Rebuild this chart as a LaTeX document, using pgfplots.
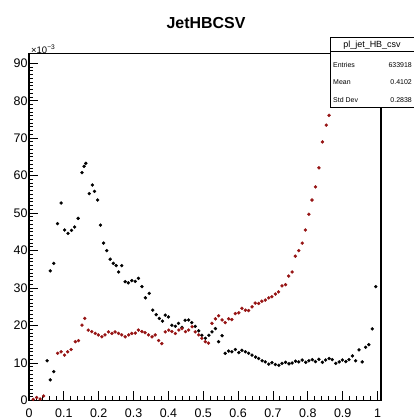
\documentclass[border=0pt]{standalone}
\usepackage{pgfplots}
\pgfplotsset{compat=1.18}
\usepackage{fontspec}
\setmainfont{Liberation Sans}
\definecolor{histred}{RGB}{150,20,20}

% b-tag discriminator, two samples
\pgfplotstableread{
x y
0.052 10.6
0.061 5.5
0.071 7.7
0.061 34.6
0.071 36.6
0.082 47.2
0.092 52.7
0.102 45.5
0.112 44.6
0.122 45.4
0.131 46.3
0.141 48.6
0.152 60.8
0.158 62.5
0.163 63.3
0.173 55.2
0.182 57.5
0.188 55.8
0.197 53.5
0.205 46.8
0.214 42.0
0.223 40.0
0.233 37.7
0.242 36.6
0.250 36.0
0.257 34.3
0.266 36.0
0.276 31.7
0.285 31.4
0.295 32.0
0.305 31.8
0.314 32.6
0.324 30.4
0.334 27.4
0.345 28.6
0.355 24.1
0.365 22.9
0.374 21.9
0.383 21.2
0.391 22.8
0.400 22.3
0.410 20.1
0.420 19.8
0.429 20.6
0.439 19.5
0.448 21.4
0.458 21.5
0.467 20.8
0.477 19.8
0.487 18.6
0.496 17.4
0.506 16.6
0.516 17.4
0.525 18.3
0.535 19.2
0.544 15.7
0.554 17.3
0.563 12.6
0.573 13.2
0.582 13.0
0.592 13.6
0.602 12.8
0.611 13.4
0.621 13.0
0.630 12.6
0.640 12.1
0.650 11.6
0.659 11.2
0.669 10.6
0.678 10.3
0.688 9.7
0.697 10.1
0.707 9.6
0.717 9.4
0.726 9.9
0.736 10.2
0.746 9.8
0.755 10.0
0.765 10.5
0.774 10.3
0.784 10.8
0.794 10.2
0.803 10.6
0.813 10.9
0.822 10.4
0.832 11.0
0.842 10.2
0.851 10.8
0.861 11.2
0.870 10.9
0.880 9.9
0.890 10.3
0.899 10.8
0.909 10.4
0.918 10.9
0.928 11.9
0.937 10.6
0.947 13.5
0.956 10.3
0.966 14.2
0.975 14.9
0.985 19.1
0.995 30.4
}\blacktab

\pgfplotstableread{
x y
0.012 0.3
0.022 0.8
0.032 0.4
0.042 1.2
0.082 12.6
0.092 13.0
0.102 12.1
0.111 13.0
0.121 13.6
0.133 15.7
0.142 16.0
0.152 20.1
0.160 21.9
0.170 18.8
0.180 18.4
0.190 17.9
0.199 17.5
0.209 17.0
0.218 17.5
0.228 18.3
0.238 17.9
0.247 18.3
0.257 17.9
0.266 17.5
0.276 17.0
0.286 17.5
0.295 17.9
0.305 18.0
0.314 18.8
0.324 18.4
0.333 18.1
0.343 17.5
0.353 17.0
0.362 17.5
0.372 16.0
0.381 15.2
0.391 18.3
0.401 18.8
0.410 18.4
0.420 17.9
0.430 18.8
0.439 19.2
0.449 18.4
0.458 18.8
0.468 19.7
0.477 18.3
0.487 17.5
0.496 16.6
0.506 15.7
0.515 15.3
0.525 20.6
0.535 21.8
0.544 22.6
0.554 21.5
0.563 20.8
0.573 21.8
0.582 21.6
0.592 23.2
0.602 23.4
0.611 24.6
0.621 24.1
0.630 24.0
0.640 25.0
0.649 26.0
0.659 25.9
0.668 26.5
0.678 26.8
0.688 27.4
0.697 27.7
0.707 28.4
0.716 29.0
0.726 30.6
0.736 30.9
0.745 33.2
0.755 34.3
0.764 38.5
0.774 40.0
0.784 42.0
0.793 45.5
0.803 49.7
0.812 53.5
0.822 57.0
0.832 62.1
0.842 69.0
0.853 73.5
0.861 76.1
0.871 84.0
}\redtab

\begin{document}
\begin{tikzpicture}[x=1bp,y=1bp]
\useasboundingbox (0,0) rectangle (414,420);
\begin{axis}[
  at={(29bp,19.5bp)}, anchor=south west,
  scale only axis, width=352bp, height=347bp,
  xmin=0, xmax=1.01, ymin=0, ymax=92.6,
  axis line style={line width=1.1bp},
  xtick={0,0.1,0.2,0.3,0.4,0.5,0.6,0.7,0.8,0.9,1},
  xticklabels={0,0.1,0.2,0.3,0.4,0.5,0.6,0.7,0.8,0.9,1},
  ytick={0,10,20,30,40,50,60,70,80,90},
  minor x tick num=4, minor y tick num=9,
  tick align=inside, xtick pos=bottom, ytick pos=left,
  major tick length=9bp, minor tick length=4.5bp,
  tick style={line width=0.9bp, black},
  ticklabel style={font=\fontsize{12.5}{12.5}\selectfont},
  /pgf/number format/assume math mode=true,
  xticklabel style={yshift=-4.5bp},
  yticklabel style={xshift=2bp},
  clip=true,
]
\addplot[only marks, mark=*, mark size=1.5bp, black] table[x=x,y=y] {\blacktab};
\addplot[only marks, mark=*, mark size=1.5bp, histred] table[x=x,y=y] {\redtab};
\end{axis}

% title
\node[font=\fontsize{16}{16}\selectfont\bfseries] at (206,397) {JetHBCSV};
% axis exponent
\node[anchor=south west, inner sep=0pt, font=\fontsize{9.5}{9.5}\selectfont] at (31,366) {×10\textsuperscript{−3}};

% statistics box
\draw[line width=1bp, fill=white] (330,312) rectangle (420,382);
\draw[line width=0.7bp] (330,368.3) -- (420,368.3);
\node[font=\fontsize{9}{9}\selectfont, inner sep=0pt] at (372,375.3) {pl\_jet\_HB\_csv};
\begin{scope}[every node/.style={inner sep=0pt, font=\fontsize{7}{7}\selectfont}]
\node[anchor=west] at (333,355) {Entries};
\node[anchor=east] at (412,355) {633918};
\node[anchor=west] at (333,338.3) {Mean};
\node[anchor=east] at (412,338.3) {0.4102};
\node[anchor=west] at (333,320) {Std Dev};
\node[anchor=east] at (412,320) {0.2838};
\end{scope}
\end{tikzpicture}
\end{document}
